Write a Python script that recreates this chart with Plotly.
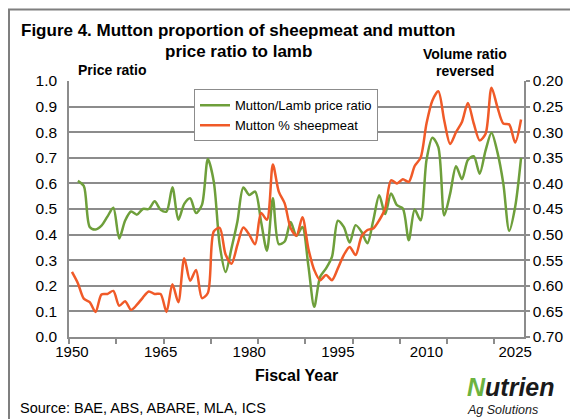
import plotly.graph_objects as go

# Fiscal years on the category axis
years = list(range(1950, 2027))

# Mutton/Lamb price ratio (left axis), no value for 1950
price_ratio = [
    None, 0.61, 0.59, 0.43, 0.42, 0.435, 0.47, 0.505, 0.385, 0.455,
    0.49, 0.478, 0.50, 0.50, 0.53, 0.497, 0.49, 0.585, 0.458, 0.52,
    0.542, 0.484, 0.516, 0.695, 0.607, 0.36, 0.254, 0.347, 0.451, 0.584,
    0.555, 0.568, 0.451, 0.337, 0.542, 0.363, 0.373, 0.449, 0.395, 0.43,
    0.28, 0.118, 0.235, 0.268, 0.313, 0.454, 0.43, 0.369, 0.437, 0.411,
    0.366, 0.456, 0.554, 0.48, 0.561, 0.515, 0.502, 0.378, 0.498, 0.456,
    0.691, 0.778, 0.742, 0.475, 0.56, 0.667, 0.616, 0.691, 0.706, 0.638,
    0.729, 0.798, 0.722, 0.599, 0.415, 0.508, 0.70,
]

# Mutton share of sheepmeat volume (right axis, reversed)
mutton_share = [
    0.573, 0.595, 0.625, 0.632, 0.651, 0.617, 0.616, 0.61, 0.639, 0.63,
    0.647, 0.637, 0.623, 0.611, 0.616, 0.616, 0.651, 0.597, 0.632, 0.546,
    0.59, 0.569, 0.624, 0.614, 0.494, 0.487, 0.539, 0.557, 0.52, 0.486,
    0.50, 0.519, 0.458, 0.471, 0.363, 0.416, 0.439, 0.487, 0.502, 0.466,
    0.527, 0.569, 0.589, 0.579, 0.589, 0.566, 0.54, 0.524, 0.54, 0.504,
    0.491, 0.488, 0.472, 0.449, 0.394, 0.40, 0.392, 0.397, 0.366, 0.35,
    0.283, 0.238, 0.22, 0.277, 0.323, 0.30, 0.28, 0.243, 0.283, 0.316,
    0.303, 0.213, 0.251, 0.283, 0.285, 0.32, 0.275,
]

x_labels = [1950, 1965, 1980, 1995, 2010, 2025]

FONT = "Liberation Sans, Arial, sans-serif"
GREEN = "#6E9F3B"
ORANGE = "#F05A28"
GRID = "#8C8C8C"

W, H = 578, 419
L, R, T, B = 61, 516, 72.7, 329


def px(x, y):
    # pixel position -> paper coordinates
    return (x - L) / (R - L), (B - y) / (B - T)


fig = go.Figure()
fig.add_trace(go.Scatter(
    x=years, y=price_ratio, name="Mutton/Lamb price ratio",
    mode="lines", line=dict(color=GREEN, width=2.5, shape="spline", smoothing=0.8),
))
fig.add_trace(go.Scatter(
    x=years, y=mutton_share, name="Mutton % sheepmeat", yaxis="y2",
    mode="lines", line=dict(color=ORANGE, width=2.5, shape="spline", smoothing=0.8),
))

annotations = []


def note(text, x, y, size, bold=False, xanchor="center", italic=False, color="#000000"):
    xp, yp = px(x, y)
    if bold:
        text = "<b>" + text + "</b>"
    if italic:
        text = "<i>" + text + "</i>"
    annotations.append(dict(
        text=text, x=xp, y=yp, xref="paper", yref="paper", showarrow=False,
        xanchor=xanchor, yanchor="middle", font=dict(family=FONT, size=size, color=color),
    ))


note("Figure 4. Mutton proportion of sheepmeat and mutton", 230, 22, 17, bold=True)
note("price ratio to lamb", 230, 43, 17, bold=True)
note("Price ratio", 104, 62, 14, bold=True)
note("Volume ratio", 457, 46, 14, bold=True)
note("reversed", 457, 63, 14, bold=True)
note("Fiscal Year", 288, 368, 16, bold=True)
note("Source: BAE, ABS, ABARE, MLA, ICS", 10, 400, 14.5, xanchor="left")
note("<span style='color:#6CB33F'>N</span>utrien", 457, 379, 25, bold=True, italic=True,
     xanchor="left", color="#1A1A1A")
note("Ag Solutions", 457, 402, 12.5, italic=True, xanchor="left", color="#1A1A1A")

x0, y0 = px(1, 418)
x1, y1 = px(577, 1)

fig.update_layout(
    width=W, height=H,
    margin=dict(l=L, r=W - R, t=T, b=H - B),
    paper_bgcolor="white", plot_bgcolor="white",
    font=dict(family=FONT, size=15, color="#000000"),
    showlegend=True,
    legend=dict(
        x=px(186, 0)[0], y=px(0, 81)[1], xanchor="left", yanchor="top",
        bgcolor="white", bordercolor=GRID, borderwidth=1,
        font=dict(family=FONT, size=13), itemwidth=30,
        tracegroupgap=0,
    ),
    xaxis=dict(
        range=[1949.5, 2026.5], tickmode="array", tickvals=x_labels,
        ticks="", showgrid=False, showline=True, linecolor=GRID, linewidth=1.5,
        zeroline=False, tickfont=dict(size=15),
        minor=dict(tickmode="array", tickvals=[1949.5 + 8 * k for k in range(10)],
                   ticks="outside", ticklen=5, tickcolor=GRID, tickwidth=1.5, showgrid=False),
    ),
    yaxis=dict(
        range=[0, 1.0], dtick=0.1, tickformat=".1f", showgrid=True, gridcolor=GRID,
        gridwidth=1.5, showline=True, linecolor=GRID, linewidth=1.5, zeroline=False,
        ticks="", tickfont=dict(size=15.5), ticklabelstandoff=7,
    ),
    yaxis2=dict(
        range=[0.70, 0.20], dtick=0.05, tickformat=".2f", overlaying="y", side="right",
        showgrid=False, showline=True, linecolor=GRID, linewidth=1.5, zeroline=False,
        ticks="outside", ticklen=4, tickcolor=GRID, tickwidth=1.5, tickfont=dict(size=15.5),
    ),
    annotations=annotations,
    shapes=[dict(type="rect", xref="paper", yref="paper", x0=x0, y0=y0, x1=x1, y1=y1,
                 line=dict(color="#7F7F7F", width=2), layer="above")],
)

fig.write_html("out.html")
